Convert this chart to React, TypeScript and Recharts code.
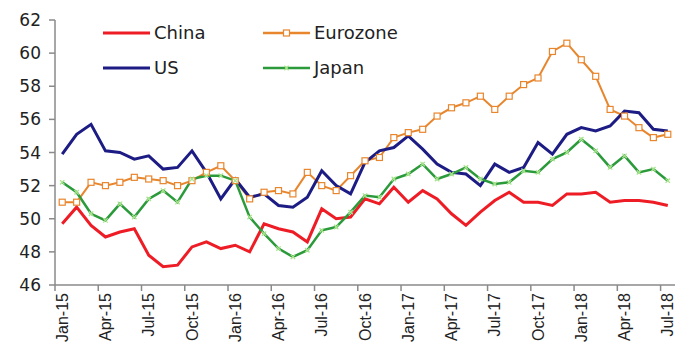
import { LineChart, Line, XAxis, YAxis, Legend } from 'recharts'

const months = [
  'Jan-15', 'Feb-15', 'Mar-15', 'Apr-15', 'May-15', 'Jun-15', 'Jul-15', 'Aug-15', 'Sep-15', 'Oct-15', 'Nov-15', 'Dec-15',
  'Jan-16', 'Feb-16', 'Mar-16', 'Apr-16', 'May-16', 'Jun-16', 'Jul-16', 'Aug-16', 'Sep-16', 'Oct-16', 'Nov-16', 'Dec-16',
  'Jan-17', 'Feb-17', 'Mar-17', 'Apr-17', 'May-17', 'Jun-17', 'Jul-17', 'Aug-17', 'Sep-17', 'Oct-17', 'Nov-17', 'Dec-17',
  'Jan-18', 'Feb-18', 'Mar-18', 'Apr-18', 'May-18', 'Jun-18', 'Jul-18',
]

const china = [
  49.7, 50.7, 49.6, 48.9, 49.2, 49.4, 47.8, 47.1, 47.2, 48.3, 48.6, 48.2,
  48.4, 48.0, 49.7, 49.4, 49.2, 48.6, 50.6, 50.0, 50.1, 51.2, 50.9, 51.9,
  51.0, 51.7, 51.2, 50.3, 49.6, 50.4, 51.1, 51.6, 51.0, 51.0, 50.8, 51.5,
  51.5, 51.6, 51.0, 51.1, 51.1, 51.0, 50.8,
]

const eurozone = [
  51.0, 51.0, 52.2, 52.0, 52.2, 52.5, 52.4, 52.3, 52.0, 52.3, 52.8, 53.2,
  52.3, 51.2, 51.6, 51.7, 51.5, 52.8, 52.0, 51.7, 52.6, 53.5, 53.7, 54.9,
  55.2, 55.4, 56.2, 56.7, 57.0, 57.4, 56.6, 57.4, 58.1, 58.5, 60.1, 60.6,
  59.6, 58.6, 56.6, 56.2, 55.5, 54.9, 55.1,
]

const us = [
  53.9, 55.1, 55.7, 54.1, 54.0, 53.6, 53.8, 53.0, 53.1, 54.1, 52.8, 51.2,
  52.4, 51.3, 51.5, 50.8, 50.7, 51.3, 52.9, 52.0, 51.5, 53.4, 54.1, 54.3,
  55.0, 54.2, 53.3, 52.8, 52.7, 52.0, 53.3, 52.8, 53.1, 54.6, 53.9, 55.1,
  55.5, 55.3, 55.6, 56.5, 56.4, 55.4, 55.3,
]

const japan = [
  52.2, 51.6, 50.3, 49.9, 50.9, 50.1, 51.2, 51.7, 51.0, 52.4, 52.6, 52.6,
  52.3, 50.1, 49.1, 48.2, 47.7, 48.1, 49.3, 49.5, 50.4, 51.4, 51.3, 52.4,
  52.7, 53.3, 52.4, 52.7, 53.1, 52.4, 52.1, 52.2, 52.9, 52.8, 53.6, 54.0,
  54.8, 54.1, 53.1, 53.8, 52.8, 53.0, 52.3,
]

const seriesOrder = ['China', 'Eurozone', 'US', 'Japan']
const yTicks = [46, 48, 50, 52, 54, 56, 58, 60, 62]
const xTickIdx = [0, 3, 6, 9, 12, 15, 18, 21, 24, 27, 30, 33, 36, 39, 42]

const W = 691
const H = 360
const margin = { top: 20, right: 16, bottom: 0, left: 0 }
const Y_AXIS_W = 55
const X_AXIS_H = 75
const halfBand = (W - margin.left - margin.right - Y_AXIS_W) / months.length / 2

const AXIS = '#8a8a8a'
const RED = '#ee1c25'
const ORANGE = '#e8862e'
const NAVY = '#1c1c84'
const GREEN = '#2b9a3a'
const LIGHT_GREEN = '#a8e58c'

const rows = months.map((m, i) => ({
  idx: i,
  month: m,
  China: china[i],
  Eurozone: eurozone[i],
  US: us[i],
  Japan: japan[i],
}))

function MonthTick({ x, y, payload }: any) {
  const ty = y + 8
  return (
    <g>
      <line x1={x - halfBand} x2={x - halfBand} y1={y} y2={y + 6} stroke={AXIS} strokeWidth={1.5} />
      <text
        x={x}
        y={ty}
        dy="0.35em"
        transform={`rotate(-90 ${x} ${ty})`}
        textAnchor="end"
        fontSize={16}
        fontFamily="'Liberation Sans', Arial, sans-serif"
        fill="#222"
      >
        {months[payload.value]}
      </text>
    </g>
  )
}

function SquareDot(p: any) {
  if (p.cx == null || p.cy == null) return <g key={p.index} />
  return (
    <rect key={p.index} x={p.cx - 3} y={p.cy - 3} width={6} height={6} fill="#fff" stroke={ORANGE} strokeWidth={1.2} />
  )
}

function CrossDot(p: any) {
  if (p.cx == null || p.cy == null) return <g key={p.index} />
  const s = 2.2
  return (
    <g key={p.index} stroke={LIGHT_GREEN} strokeWidth={1.3}>
      <line x1={p.cx - s} y1={p.cy - s} x2={p.cx + s} y2={p.cy + s} />
      <line x1={p.cx - s} y1={p.cy + s} x2={p.cx + s} y2={p.cy - s} />
    </g>
  )
}

function LegendSample({ name, color }: { name: string; color: string }) {
  return (
    <svg width={47} height={12} style={{ display: 'block' }}>
      <line x1={0} x2={47} y1={6} y2={6} stroke={color} strokeWidth={name === 'Eurozone' || name === 'Japan' ? 2.5 : 3} />
      {name === 'Eurozone' && <rect x={20.5} y={3} width={6} height={6} fill="#fff" stroke={ORANGE} strokeWidth={1.2} />}
      {name === 'Japan' && (
        <g stroke={LIGHT_GREEN} strokeWidth={1.3}>
          <line x1={21.3} y1={3.8} x2={25.7} y2={8.2} />
          <line x1={21.3} y1={8.2} x2={25.7} y2={3.8} />
        </g>
      )}
    </svg>
  )
}

function renderLegend(props: any) {
  const items = [...(props.payload ?? [])].sort(
    (a: any, b: any) => seriesOrder.indexOf(a.value) - seriesOrder.indexOf(b.value),
  )
  return (
    <div style={{ display: 'grid', gridTemplateColumns: '160px 160px', gridAutoRows: '35px' }}>
      {items.map((it: any) => (
        <div key={it.value} style={{ display: 'flex', alignItems: 'center' }}>
          <LegendSample name={it.value} color={it.color} />
          <span
            style={{
              marginLeft: 4,
              fontSize: 18,
              fontFamily: "'DejaVu Sans', sans-serif",
              color: '#222',
              lineHeight: '20px',
            }}
          >
            {it.value}
          </span>
        </div>
      ))}
    </div>
  )
}

export default function App() {
  return (
    <div style={{ position: 'absolute', left: 0, top: 0, width: W, height: H, background: '#fff' }}>
      <LineChart width={W} height={H} data={rows} margin={margin}>
        <XAxis
          dataKey="idx"
          type="number"
          domain={[-0.5, months.length - 0.5]}
          ticks={xTickIdx}
          interval={0}
          tickLine={false}
          tickSize={0}
          tickMargin={0}
          height={X_AXIS_H}
          axisLine={{ stroke: AXIS, strokeWidth: 1.5 }}
          tick={<MonthTick />}
        />
        <YAxis
          domain={[46, 62]}
          ticks={yTicks}
          interval={0}
          width={Y_AXIS_W}
          tickSize={6}
          tickMargin={8}
          axisLine={{ stroke: AXIS, strokeWidth: 1.5 }}
          tickLine={{ stroke: AXIS, strokeWidth: 1.5 }}
          tick={{ fill: '#222', fontSize: 17, fontFamily: "'DejaVu Sans', sans-serif" }}
        />
        <Legend
          layout="vertical"
          align="center"
          verticalAlign="middle"
          content={renderLegend}
          wrapperStyle={{ top: 15, left: 103, width: 330 }}
        />
        <Line dataKey="China" stroke={RED} strokeWidth={3} dot={false} isAnimationActive={false} />
        <Line dataKey="Eurozone" stroke={ORANGE} strokeWidth={2} dot={SquareDot} isAnimationActive={false} />
        <Line dataKey="US" stroke={NAVY} strokeWidth={3} dot={false} isAnimationActive={false} />
        <Line dataKey="Japan" stroke={GREEN} strokeWidth={2.5} dot={CrossDot} isAnimationActive={false} />
      </LineChart>
    </div>
  )
}
